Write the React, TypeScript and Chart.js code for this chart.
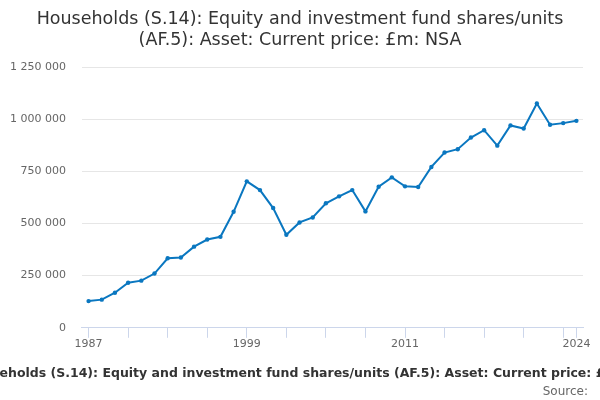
import React, { useEffect, useRef } from "react";
import { Chart, registerables } from "chart.js";

Chart.register(...registerables);

const years: string[] = [
  "1987", "1988", "1989", "1990", "1991", "1992", "1993", "1994", "1995", "1996",
  "1997", "1998", "1999", "2000", "2001", "2002", "2003", "2004", "2005", "2006",
  "2007", "2008", "2009", "2010", "2011", "2012", "2013", "2014", "2015", "2016",
  "2017", "2018", "2019", "2020", "2021", "2022", "2023", "2024",
];

const values: number[] = [
  128000, 135000, 168000, 216000, 226000, 260000, 333000, 337000, 389000, 423000,
  436000, 556000, 702000, 660000, 574000, 446000, 505000, 529000, 597000, 630000,
  660000, 558000, 676000, 721000, 678000, 675000, 771000, 840000, 856000, 912000,
  947000, 873000, 970000, 955000, 1075000, 973000, 981000, 992000,
];

const labeledYears: string[] = ["1987", "1999", "2011", "2024"];

const titleLines: string[] = [
  "Households (S.14): Equity and investment fund shares/units",
  "(AF.5): Asset: Current price: £m: NSA",
];
const axisTitle =
  "Households (S.14): Equity and investment fund shares/units (AF.5): Asset: Current price: £m: NSA";
const sourceText = "Source:";

const fmt = (v: number) => String(Math.round(v)).replace(/\B(?=(\d{3})+(?!\d))/g, " ");

export default function App() {
  const ref = useRef<HTMLCanvasElement>(null);
  useEffect(() => {
    document.body.style.margin = "0";
    if (!ref.current) return;
    const textPlugin = {
      id: "texts",
      afterDraw(chart: any) {
        const ctx = chart.ctx;
        ctx.save();
        ctx.textAlign = "center";
        ctx.textBaseline = "alphabetic";
        ctx.fillStyle = "#333333";
        ctx.font = "17.5px 'DejaVu Sans'";
        ctx.fillText(titleLines[0], 300, 24);
        ctx.fillText(titleLines[1], 300, 45);
        ctx.font = "bold 12.5px 'DejaVu Sans'";
        ctx.fillText(axisTitle, 310, 377);
        ctx.textAlign = "right";
        ctx.font = "12px 'DejaVu Sans'";
        ctx.fillStyle = "#666666";
        ctx.fillText(sourceText, 588, 395);
        ctx.restore();
      },
    };
    const last = years.length - 1;
    const chart = new Chart(ref.current, {
      type: "line",
      data: {
        labels: years,
        datasets: [
          {
            data: values,
            borderColor: "#0a77c0",
            backgroundColor: "#0a77c0",
            borderWidth: 2,
            pointRadius: 2.2,
            pointBorderWidth: 0,
            pointHoverRadius: 2.2,
            tension: 0,
          },
        ],
      },
      options: {
        responsive: false,
        animation: false,
        layout: { padding: { top: 67, left: -6, right: 17, bottom: 49 } },
        plugins: { legend: { display: false }, title: { display: false }, tooltip: { enabled: false } },
        scales: {
          x: {
            type: "category",
            offset: true,
            border: { color: "#ccd6eb", width: 1 },
            grid: {
              offset: false,
              drawOnChartArea: false,
              drawTicks: true,
              tickLength: 10,
              tickColor: (ctx: any) =>
                ctx.index % 3 === 0 || ctx.index === last ? "#ccd6eb" : "rgba(0,0,0,0)",
            },
            ticks: {
              autoSkip: false,
              maxRotation: 0,
              padding: 0,
              color: "#666666",
              font: { family: "'DejaVu Sans'", size: 11 },
              callback: (_v: any, i: number) => (labeledYears.includes(years[i]) ? years[i] : ""),
            },
          },
          y: {
            min: 0,
            max: 1250000,
            border: { display: false },
            grid: { color: "#e6e6e6", drawTicks: false },
            ticks: {
              stepSize: 250000,
              padding: 16,
              color: "#666666",
              font: { family: "'DejaVu Sans'", size: 11 },
              callback: (v: any) => fmt(Number(v)),
            },
          },
        },
      },
      plugins: [textPlugin],
    });
    return () => chart.destroy();
  }, []);
  return <canvas ref={ref} width={600} height={400} style={{ display: "block" }} />;
}
